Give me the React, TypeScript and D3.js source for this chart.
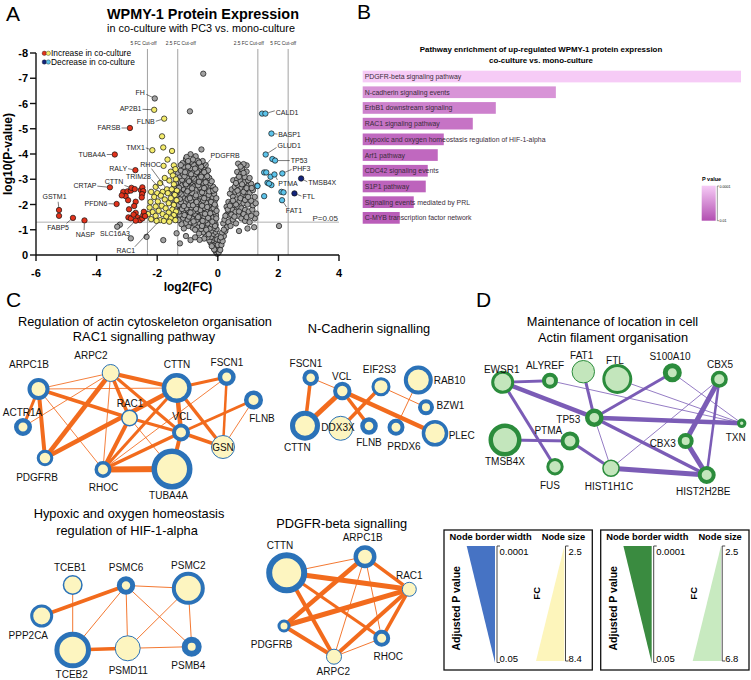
import React from "react";
import * as d3 from "d3";

const FONT = "'Liberation Sans', Arial, Helvetica, sans-serif";

// ================= Panel A : volcano =================
const volcanoXTicks = [-6, -4, -2, 0, 2, 4];
const volcanoYTicks = [0, 1, 2, 3, 4, 5, 6, 7, 8];
const foldCutoffs = [5, 2.5];
const pCutoff = 0.05;

// [log2(FC), -log10(P)]
const grayPoints: number[][] = [
  [-0.02,0.05],[-0.06,0.12],[0.03,0.1],[-0.1,0.2],[-0.04,0.25],[-0.14,0.3],[-0.08,0.36],[-0.19,0.42],[-0.03,0.44],[-0.12,0.48],[0.05,0.3],[-0.24,0.5],
  [-0.06,0.55],[-0.17,0.6],[-0.28,0.58],[-0.1,0.68],[-0.22,0.72],[-0.34,0.7],[-0.05,0.78],[-0.15,0.84],[-0.29,0.86],[-0.4,0.8],[-0.08,0.92],[-0.21,0.97],[-0.36,0.95],[-0.48,0.9],[-0.62,0.85],[-0.9,0.59],[-1.25,0.46],[-1.36,0.86],[-1.05,0.75],[-0.75,0.7],[-1.8,0.59],[-2.35,0.72],[-2.87,0.66],[-3.23,1.2],[-3.32,1.12],
  [-0.04,1.02],[-0.13,1.08],[-0.27,1.05],[-0.41,1.1],[-0.55,1.03],[-0.68,1.12],[-0.83,1.08],[-0.97,1.15],[-1.12,1.05],[-0.07,1.2],[-0.2,1.22],[-0.34,1.25],[-0.49,1.2],[-0.62,1.28],[-0.77,1.24],[-0.91,1.3],[-1.06,1.27],[-1.2,1.22],[-0.1,1.36],[-0.25,1.4],[-0.4,1.37],[-0.55,1.42],[-0.7,1.39],[-0.85,1.45],[-1.0,1.41],[-1.15,1.47],[-1.3,1.38],[-0.15,1.5],[-0.45,1.52],[-1.42,1.5],
  [-0.06,1.58],[-0.3,1.6],[-0.6,1.56],[-0.75,1.62],[-0.93,1.58],[-1.08,1.63],[-1.25,1.6],[-0.12,1.7],[-0.38,1.72],[-0.52,1.68],[-0.67,1.75],[-0.82,1.72],[-0.98,1.78],[-1.14,1.74],[-1.33,1.76],[-0.2,1.83],[-0.45,1.86],[-0.6,1.82],[-0.88,1.88],[-1.04,1.85],[-1.2,1.9],[-1.4,1.88],[-0.08,1.92],[-0.3,1.96],[-0.72,1.95],[-0.95,1.98],[-1.3,1.99],
  [-0.15,2.04],[-0.38,2.06],[-0.55,2.02],[-0.8,2.08],[-1.1,2.05],[-1.22,2.1],[-1.44,2.05],[-0.1,2.15],[-0.25,2.18],[-0.48,2.16],[-0.65,2.2],[-0.88,2.15],[-1.0,2.22],[-1.35,2.18],[-0.18,2.3],[-0.35,2.27],[-0.58,2.32],[-0.75,2.28],[-0.95,2.34],[-1.15,2.3],[-1.3,2.36],[-0.12,2.42],[-0.42,2.44],[-0.62,2.4],[-0.85,2.46],[-1.05,2.43],[-1.25,2.48],[-1.45,2.42],
  [-0.2,2.55],[-0.32,2.6],[-0.52,2.56],[-0.7,2.62],[-0.92,2.58],[-1.12,2.6],[-1.35,2.55],[-0.15,2.7],[-0.4,2.72],[-0.6,2.68],[-0.8,2.74],[-1.0,2.7],[-1.2,2.76],[-1.42,2.72],[-0.25,2.84],[-0.48,2.86],[-0.68,2.82],[-0.88,2.88],[-1.08,2.84],[-1.3,2.9],[-0.35,2.96],[-0.58,2.98],[-0.78,2.95],[-1.18,2.98],
  [-0.28,3.05],[-0.45,3.08],[-0.65,3.04],[-0.85,3.1],[-1.02,3.06],[-1.25,3.12],[-0.38,3.2],[-0.55,3.22],[-0.75,3.18],[-0.95,3.24],[-1.15,3.2],[-1.32,3.26],[-0.32,3.35],[-0.62,3.36],[-0.82,3.32],[-1.05,3.38],[-1.22,3.34],[-0.48,3.45],[-0.7,3.48],[-0.9,3.44],[-1.12,3.5],
  [-0.4,3.56],[-0.6,3.6],[-0.8,3.58],[-1.0,3.62],[-1.16,3.64],[-0.5,3.72],[-0.68,3.75],[-0.88,3.7],[-1.05,3.8],[-0.73,3.91],[-0.9,3.99],[-1.03,3.88],[-0.54,4.18],
  [-0.02,0.62],[-0.09,1.15],[-0.18,1.32],[-0.32,1.47],[-0.5,1.35],[-0.65,1.5],[-0.8,1.33],[-0.95,1.52],[-1.1,1.58],[-1.28,1.72],[-0.25,1.65],[-0.42,1.63],[-0.58,1.78],[-0.72,1.83],[-0.9,1.68],[-1.18,1.82],[-0.14,1.85],[-0.35,1.9],[-0.52,1.95],[-0.82,1.97],[-1.12,1.94],[-0.22,2.1],[-0.45,2.25],[-0.7,2.1],[-0.92,2.25],[-1.25,2.22],[-0.3,2.38],[-0.52,2.48],[-0.72,2.36],[-1.0,2.52],[-1.2,2.4],[-0.28,2.52],[-0.45,2.65],[-0.65,2.76],[-0.85,2.64],[-1.05,2.8],[-1.28,2.66],[-0.2,2.92],[-0.4,2.88],[-0.62,2.9],[-0.95,2.92],[-1.38,2.85],[-0.35,3.12],[-0.55,3.1],[-0.78,3.02],[-1.1,3.12],[-0.45,3.28],[-0.68,3.28],[-0.88,3.2],[-1.08,3.28],[-0.55,3.5],[-0.75,3.42],[-0.98,3.5],[-0.62,3.66],[-0.82,3.78],[-0.98,3.72],[-1.22,3.56],[-0.38,1.0],[-0.52,1.15],[-0.75,1.0],[-0.3,0.82],[-0.45,0.65],[-0.6,0.6],[-0.12,0.22],[-0.2,0.35],[0.0,0.4],[-0.05,1.45],[-0.04,1.75],[-0.1,2.0],[-0.05,2.25],[-0.15,2.55],[-0.08,2.6],
  [-0.48,7.18],[-0.92,5.69],[-2.08,6.2],
  [0.08,0.2],[0.12,0.4],[0.07,0.59],[0.16,0.55],[0.2,0.75],[0.14,0.88],[0.25,0.95],[0.18,1.25],[0.3,1.1],[0.22,1.4],[0.35,1.3],[0.42,1.15],[0.29,1.91],[0.3,1.6],[0.4,1.55],[0.5,1.4],[0.6,1.25],[0.38,1.75],[0.48,1.8],[0.58,1.7],[0.68,1.55],[0.78,1.45],[0.9,1.35],[1.05,1.3],[1.22,1.45],[1.27,1.64],
  [0.35,2.1],[0.45,2.05],[0.55,1.98],[0.66,1.92],[0.78,1.85],[0.9,1.78],[1.02,1.72],[1.14,1.8],[1.16,1.97],[0.4,2.43],[0.5,2.3],[0.62,2.2],[0.72,2.12],[0.85,2.05],[0.98,2.0],[1.1,2.15],[1.22,2.3],[0.46,2.6],[0.58,2.5],[0.7,2.42],[0.82,2.36],[0.94,2.3],[1.05,2.45],[1.16,2.57],
  [0.56,2.7],[0.66,2.78],[0.78,2.66],[0.9,2.6],[1.0,2.75],[1.1,2.82],[0.51,2.96],[0.64,3.0],[0.75,2.92],[0.88,2.88],[1.0,2.96],[0.64,3.29],[0.76,3.2],[0.89,3.09],[0.8,3.4],[0.95,3.3],[0.67,3.62],[0.95,3.55],[0.85,3.6],[1.2,1.1],[0.98,1.05],[0.7,0.95],[2.02,1.15],[1.25,2.05],[1.3,2.75],
  [0.1,0.7],[0.2,1.0],[0.25,1.55],[0.33,1.8],[0.45,1.6],[0.55,1.52],[0.7,1.72],[0.85,1.62],[0.95,1.5],[1.1,1.55],[0.4,1.95],[0.6,2.0],[0.75,2.25],[0.9,2.18],[1.0,2.3],[0.5,2.15],[0.65,2.55],[0.85,2.5],[0.95,2.65],[1.12,2.65],[0.6,2.85],[0.8,2.8],[0.7,3.1],[0.85,3.25],[1.05,3.05],[0.75,3.5]
];

const yellowPoints: number[][] = [
  [-2.1,5.75],[-1.77,5.4],[-1.84,4.7],[-1.8,4.26],[-2.16,4.15],[-1.51,4.12],[-1.66,3.78],[-1.79,3.53],[-1.45,3.55],[-1.4,3.4],[-1.55,3.3],[-1.48,3.15],[-1.38,3.0],[-1.6,2.95],[-1.75,3.05],[-1.9,2.85],[-2.05,2.7],[-1.68,2.6],[-1.45,2.8],[-1.52,2.6],[-1.82,2.5],[-1.35,2.55],[-2.2,2.5],[-2.0,2.45],[-1.65,2.45],[-1.42,2.38],[-1.88,2.35],[-2.1,2.3],[-1.55,2.25],[-1.75,2.2],[-1.36,2.17],[-1.98,2.12],[-2.22,2.1],[-1.62,2.05],[-1.45,1.98],[-1.85,1.95],[-2.05,1.92],[-2.25,1.88],[-1.72,1.85],[-1.5,1.8],[-1.38,1.72],[-1.95,1.75],[-2.15,1.7],[-1.62,1.68],[-1.82,1.62],[-2.3,1.62],[-1.45,1.58],[-2.05,1.55],[-1.7,1.52],[-1.55,1.45],[-1.9,1.38],[-2.2,1.42],[-1.4,1.38],[-1.78,1.35],[-2.02,1.35],[-1.6,1.32]
];

const redPoints: number[][] = [
  [-2.9,5.03],[-3.4,3.98],[-2.72,3.36],[-3.56,2.68],[-3.34,2.02],[-5.24,1.78],[-5.24,1.55],[-4.78,1.47],[-4.4,1.37],
  [-3.12,2.5],[-2.98,2.52],[-2.87,2.55],[-3.04,2.33],[-2.96,2.17],[-2.85,2.66],[-2.74,2.61],[-2.71,2.11],[-2.76,1.94],[-2.93,1.81],[-2.95,1.49],[-2.87,1.45],[-2.71,1.67],[-2.65,1.49],[-2.57,1.38],[-2.49,1.45],[-2.46,1.58],[-2.44,1.71],[-2.71,1.36],[-2.54,2.57],[-2.49,2.68],[-2.46,2.53],[-2.5,2.41],[-2.51,2.28],[-2.4,1.54],[-2.78,1.6],[-3.17,2.36]
];

const lightBluePoints: number[][] = [
  [1.46,5.6],[1.57,5.6],[1.77,4.81],[1.58,3.98],[1.8,3.8],[1.89,3.74],[2.13,3.23],[2.12,2.17],[1.53,3.27],[1.6,3.27],[1.74,3.1],[1.87,3.19],[1.64,2.86],[1.77,2.77],[1.69,2.83],[1.31,2.73],[1.53,2.33],[2.1,2.5],[2.17,2.48]
];

const darkBluePoints: number[][] = [[2.75,3.03],[2.53,2.44]];

// labels: point (x,y), text offset (dx,dy), leader start offset (lx,ly)
const volcanoLabels = [
  { name: "FH", x: -2.08, y: 6.2, dx: -10, dy: -5.8, anchor: "end", lx: -8.5, ly: -4.1 },
  { name: "AP2B1", x: -2.1, y: 5.75, dx: -12.7, dy: -1.2, anchor: "end", lx: -11.7, ly: -0.5 },
  { name: "FLNB", x: -1.77, y: 5.4, dx: -9.4, dy: 2.6, anchor: "end", lx: -8.4, ly: 2.6 },
  { name: "FARSB", x: -2.9, y: 5.03, dx: -9.4, dy: 0, anchor: "end", lx: -8.4, ly: 0 },
  { name: "TMX1", x: -2.16, y: 4.15, dx: -7.5, dy: -2.3, anchor: "end", lx: -6.5, ly: -2.3 },
  { name: "TUBA4A", x: -3.4, y: 3.98, dx: -9, dy: 0, anchor: "end", lx: -8, ly: 0 },
  { name: "RALY", x: -2.72, y: 3.36, dx: -8.3, dy: -2, anchor: "end", lx: -7.3, ly: -1.5 },
  { name: "RHOC", x: -1.68, y: 2.6, dx: -16.3, dy: -24.7, anchor: "middle", lx: -15.4, ly: -20.7 },
  { name: "TRIM28", x: -1.82, y: 2.5, dx: -24.2, dy: -15.1, anchor: "middle", lx: -11.2, ly: -12.5 },
  { name: "CTTN", x: -2.85, y: 2.66, dx: -8, dy: -6, anchor: "end", lx: -7, ly: -2.4 },
  { name: "CRTAP", x: -3.56, y: 2.68, dx: -13.4, dy: -1.9, anchor: "end", lx: -12.6, ly: -1.2 },
  { name: "PFDN6", x: -3.34, y: 2.02, dx: -9.1, dy: -0.6, anchor: "end", lx: -8.1, ly: -0.3 },
  { name: "GSTM1", x: -5.24, y: 1.78, dx: -4.5, dy: -13.3, anchor: "middle", lx: -0.9, ly: -8.3 },
  { name: "FABP5", x: -4.78, y: 1.47, dx: -14.9, dy: 9.2, anchor: "middle", lx: -6.5, ly: 5.5 },
  { name: "NASP", x: -4.4, y: 1.37, dx: 0.8, dy: 14.4, anchor: "middle", lx: -0.4, ly: 9.7 },
  { name: "SLC16A3", x: -2.71, y: 1.36, dx: -20.7, dy: 13, anchor: "middle", lx: -8.4, ly: 8.3 },
  { name: "RAC1", x: -1.9, y: 1.38, dx: -34.4, dy: 30.6, anchor: "middle", lx: -25.4, ly: 26.6 },
  { name: "PDGFRB", x: -1.36, y: 2.17, dx: 33.9, dy: -45.1, anchor: "start", lx: 33.9, ly: -40.8 },
  { name: "CALD1", x: 1.57, y: 5.6, dx: 10.4, dy: -1.6, anchor: "start", lx: 9.4, ly: -2.8 },
  { name: "BASP1", x: 1.77, y: 4.81, dx: 6.7, dy: 0.7, anchor: "start", lx: 6, ly: 0.5 },
  { name: "GLUD1", x: 1.58, y: 3.98, dx: 11.8, dy: -9.3, anchor: "start", lx: 10.8, ly: -7 },
  { name: "TP53", x: 1.89, y: 3.74, dx: 15.7, dy: -0.4, anchor: "start", lx: 14.7, ly: 0 },
  { name: "PHF3", x: 2.13, y: 3.23, dx: 10.2, dy: -5, anchor: "start", lx: 9.2, ly: -4 },
  { name: "TMSB4X", x: 2.75, y: 3.03, dx: 7, dy: 4, anchor: "start", lx: 6.2, ly: 3.3 },
  { name: "PTMA", x: 1.87, y: 3.19, dx: 3.8, dy: 9.5, anchor: "start", lx: 3, ly: 5.5 },
  { name: "FTL", x: 2.53, y: 2.44, dx: 8, dy: 3.4, anchor: "start", lx: 7, ly: 2.7 },
  { name: "FAT1", x: 2.12, y: 2.17, dx: 3.8, dy: 9.9, anchor: "start", lx: 4.5, ly: 6.9 },
];

// ================= Panel B : pathway enrichment =================
const pathways = [
  "PDGFR-beta signaling pathway",
  "N-cadherin signaling events",
  "ErbB1 downstream signaling",
  "RAC1 signaling pathway",
  "Hypoxic and oxygen homeostasis regulation of HIF-1-alpha",
  "Arf1 pathway",
  "CDC42 signaling events",
  "S1P1 pathway",
  "Signaling events mediated by PRL",
  "C-MYB transcription factor network",
];
const pathwayScores = [37.8, 19.3, 13.3, 11.0, 8.1, 7.5, 6.5, 6.3, 5.1, 3.7];
const pathwayPValues = [0.0001, 0.0045, 0.006, 0.0071, 0.0079, 0.008, 0.0083, 0.0084, 0.0086, 0.0089];

// ================= Panel C / D : networks =================
type NetNode = { id: string; fc: number; p: number };
type NetEdge = [string, string, number];

const actinNodes: NetNode[] = [
  { id: "ARPC1B", fc: 4.47, p: 0.0017 }, { id: "ARPC2", fc: 3.68, p: 0.05 },
  { id: "CTTN", fc: 6.04, p: 0.00096 }, { id: "FSCN1", fc: 3.68, p: 0.00096 },
  { id: "FLNB", fc: 3.88, p: 0.00096 }, { id: "ACTR1A", fc: 3.68, p: 0.00096 },
  { id: "RAC1", fc: 3.48, p: 0.028 }, { id: "VCL", fc: 3.68, p: 0.0017 },
  { id: "GSN", fc: 4.86, p: 0.05 }, { id: "PDGFRB", fc: 3.4, p: 0.0052 },
  { id: "RHOC", fc: 3.48, p: 0.003 }, { id: "TUBA4A", fc: 8.2, p: 0.00031 },
];
const actinEdges: NetEdge[] = [
  ["ARPC1B","ARPC2",0.03],["ARPC1B","CTTN",0.03],["ARPC1B","ACTR1A",0.43],["ARPC1B","PDGFRB",0.62],["ARPC1B","RAC1",0.53],
  ["ARPC1B","RHOC",0.03],["ACTR1A","ARPC2",0.03],["ARPC2","CTTN",0.62],["ARPC2","RAC1",0.53],["ARPC2","PDGFRB",0.72],
  ["ARPC2","RHOC",0.03],["ARPC2","VCL",0.43],["CTTN","FSCN1",0.43],["CTTN","VCL",0.72],["CTTN","GSN",0.53],
  ["CTTN","PDGFRB",0.72],["CTTN","RHOC",0.43],["VCL","FLNB",0.43],["VCL","TUBA4A",0.62],["VCL","RHOC",0.53],
  ["RHOC","TUBA4A",1.0],["RHOC","RAC1",0.62],["RAC1","VCL",0.43],["VCL","GSN",0.53],["FSCN1","GSN",0.34],
  ["FSCN1","RHOC",0.03],["FLNB","GSN",0.03],["RAC1","TUBA4A",0.03],
];
const actinLayout: Record<string, number[]> = {
  ARPC1B: [38.5, 389, 29, 364.5], ARPC2: [110.7, 373, 91, 355], CTTN: [176.7, 388, 177, 364],
  FSCN1: [226.7, 377, 227, 362], FLNB: [253.5, 400, 262, 418], ACTR1A: [23, 427, 22.5, 412.5],
  RAC1: [129.5, 418, 130, 403.5], VCL: [181, 432.5, 182, 416], GSN: [223, 447, 223, 447],
  PDGFRB: [45, 458, 37, 477], RHOC: [103, 469.5, 103.5, 487], TUBA4A: [172, 469, 168.5, 495],
};

const cadherinNodes: NetNode[] = [
  { id: "FSCN1", fc: 3.4, p: 0.0017 }, { id: "VCL", fc: 3.76, p: 0.0017 },
  { id: "EIF2S3", fc: 3.88, p: 0.0052 }, { id: "RAB10", fc: 5.84, p: 0.0017 },
  { id: "BZW1", fc: 3.29, p: 0.0017 }, { id: "PLEC", fc: 5.37, p: 0.003 },
  { id: "CTTN", fc: 6.04, p: 0.00054 }, { id: "DDX3X", fc: 5.06, p: 0.05 },
  { id: "FLNB", fc: 3.6, p: 0.00096 }, { id: "PRDX6", fc: 3.48, p: 0.0017 },
];
const cadherinEdges: NetEdge[] = [
  ["FSCN1","CTTN",0.53],["FSCN1","VCL",0.04],["VCL","CTTN",0.81],["VCL","FLNB",0.53],["VCL","PLEC",0.72],
  ["EIF2S3","DDX3X",0.53],["EIF2S3","BZW1",0.04],["RAB10","PRDX6",0.04],
];
const cadherinLayout: Record<string, number[]> = {
  FSCN1: [310.7, 377.7, 306, 363], VCL: [342.3, 391, 341.7, 376.5], EIF2S3: [381, 386.7, 379.5, 369.5],
  RAB10: [418.3, 380, 449.5, 380], BZW1: [426, 407.3, 450.5, 405], PLEC: [435, 433.3, 461.7, 435],
  CTTN: [305, 425.7, 297.3, 447.3], DDX3X: [340.7, 428.3, 338, 427.5], FLNB: [369, 426, 369, 442.7],
  PRDX6: [396, 427.3, 404, 446.7],
};

const hypoxiaNodes: NetNode[] = [
  { id: "TCEB1", fc: 4.07, p: 0.028 }, { id: "PSMC6", fc: 3.76, p: 0.00054 },
  { id: "PSMC2", fc: 6.63, p: 0.0017 }, { id: "PPP2CA", fc: 4.66, p: 0.0052 },
  { id: "TCEB2", fc: 7.34, p: 0.00054 }, { id: "PSMD11", fc: 5.25, p: 0.05 },
  { id: "PSMB4", fc: 4.07, p: 0.00018 },
];
const hypoxiaEdges: NetEdge[] = [
  ["PPP2CA","PSMC6",0.62],["TCEB1","TCEB2",0.04],["TCEB2","PSMC6",0.04],["TCEB2","PSMD11",0.53],["PSMC6","PSMD11",0.04],
  ["PSMC6","PSMC2",0.04],["PSMC6","PSMB4",0.04],["PSMC2","PSMD11",0.04],["PSMC2","PSMB4",0.04],["PSMD11","PSMB4",0.04],
];
const hypoxiaLayout: Record<string, number[]> = {
  TCEB1: [72.7, 585, 70, 567.5], PSMC6: [126, 585.5, 126, 567.5], PSMC2: [188.3, 588.3, 188.3, 565],
  PPP2CA: [41.7, 616, 28.3, 635], TCEB2: [72.7, 650, 71.7, 674], PSMD11: [127.7, 648.3, 128.3, 670],
  PSMB4: [191.7, 646.7, 188.3, 665],
};

const pdgfrNodes: NetNode[] = [
  { id: "CTTN", fc: 8.2, p: 0.00018 }, { id: "ARPC1B", fc: 4.66, p: 0.00096 },
  { id: "RAC1", fc: 3.09, p: 0.05 }, { id: "PDGFRB", fc: 2.7, p: 0.0052 },
  { id: "RHOC", fc: 3.48, p: 0.0017 }, { id: "ARPC2", fc: 3.29, p: 0.05 },
];
const pdgfrEdges: NetEdge[] = [
  ["CTTN","ARPC1B",0.04],["CTTN","RAC1",0.81],["CTTN","ARPC2",0.62],["CTTN","RHOC",0.43],["ARPC1B","PDGFRB",0.72],
  ["ARPC1B","RAC1",0.53],["ARPC1B","ARPC2",0.04],["ARPC1B","RHOC",0.04],["RAC1","PDGFRB",0.81],["RAC1","ARPC2",0.62],
  ["RAC1","RHOC",0.53],["PDGFRB","ARPC2",0.62],["ARPC2","RHOC",0.04],
];
const pdgfrLayout: Record<string, number[]> = {
  CTTN: [286.7, 572.7, 280, 545], ARPC1B: [365, 556.7, 362.7, 537.3], RAC1: [409.3, 589.3, 409.3, 575],
  PDGFRB: [284, 626, 271.7, 644], RHOC: [381.7, 638.3, 388.3, 656.7], ARPC2: [334, 656.7, 333.3, 671.7],
};

const maintNodes: NetNode[] = [
  { id: "EWSR1", fc: 4.91, p: 0.0052 }, { id: "ALYREF", fc: 3.7, p: 0.0017 },
  { id: "FAT1", fc: 4.98, p: 0.05 }, { id: "FTL", fc: 6.11, p: 0.0052 },
  { id: "S100A10", fc: 4.22, p: 0.00054 }, { id: "CBX5", fc: 3.88, p: 0.003 },
  { id: "TP53", fc: 4.15, p: 0.00096 }, { id: "TXN", fc: 2.57, p: 0.0052 },
  { id: "TMSB4X", fc: 6.63, p: 0.00096 }, { id: "PTMA", fc: 4.22, p: 0.0017 },
  { id: "CBX3", fc: 3.7, p: 0.0017 }, { id: "FUS", fc: 3.94, p: 0.0052 },
  { id: "HIST1H1C", fc: 3.98, p: 0.028 }, { id: "HIST2H2BE", fc: 4.05, p: 0.0017 },
];
const maintEdges: NetEdge[] = [
  ["EWSR1","ALYREF",0.43],["EWSR1","TP53",0.72],["EWSR1","FUS",0.43],["FAT1","TP53",0.43],["TP53","S100A10",0.43],
  ["TP53","TXN",0.72],["TP53","HIST1H1C",0.02],["TP53","HIST2H2BE",0.53],["ALYREF","TXN",0.02],["FTL","TXN",0.02],
  ["S100A10","TXN",0.02],["CBX5","CBX3",0.81],["CBX5","HIST2H2BE",0.34],["CBX5","HIST1H1C",0.02],["CBX3","HIST2H2BE",0.81],
  ["TMSB4X","PTMA",0.43],["PTMA","HIST1H1C",0.43],["HIST1H1C","HIST2H2BE",0.81],
];
const maintLayout: Record<string, number[]> = {
  EWSR1: [502.7, 382.3, 501.7, 369.3], ALYREF: [550, 380.7, 545, 365], FAT1: [583.3, 371.7, 581.7, 355],
  FTL: [617.3, 379, 615, 360], S100A10: [672.3, 372.7, 670, 356.7], CBX5: [719.3, 379.3, 720, 364],
  TP53: [594.3, 417.7, 568.3, 419.3], TXN: [741.7, 423.3, 735.7, 437.3], TMSB4X: [505, 440, 505, 461.7],
  PTMA: [570, 441, 548.3, 430.7], CBX3: [685.7, 441, 662.7, 443.3], FUS: [555, 466.7, 550, 485],
  HIST1H1C: [611, 468.3, 609, 486], HIST2H2BE: [706.7, 475, 703.3, 491.7],
};

const legendPLabels = ["0.0001", "0.05"];
const legendFcC = ["2.5", "8.4"];
const legendFcD = ["2.5", "6.8"];

// ================= components =================
function Volcano() {
  const x = d3.scaleLinear().domain([-6, 4]).range([36, 339]);
  const y = d3.scaleLinear().domain([0, 8]).range([255, 53]);
  const r = 2.7;
  const dot = (pts: number[][], fill: string, key: string) =>
    pts.map((p, i) => (
      <circle key={key + i} cx={x(p[0])} cy={y(p[1])} r={r} fill={fill} stroke="#111" strokeWidth={0.7} />
    ));
  const cut = foldCutoffs.flatMap((fc) => [-Math.log2(fc), Math.log2(fc)]);
  const cutLabelShift: Record<string, number> = { "-2.32": -4, "-1.32": 3, "1.32": -9, "2.32": -5 };
  return (
    <g fontFamily={FONT}>
      <text x={6} y={21} fontSize={21}>A</text>
      <text x={203} y={18.8} fontSize={14.4} fontWeight="bold" textAnchor="middle">WPMY-1 Protein Expression</text>
      <text x={201} y={31.5} fontSize={10.8} textAnchor="middle">in co-culture with PC3 vs. mono-culture</text>
      {cut.map((v) => (
        <g key={v}>
          <line x1={x(v)} x2={x(v)} y1={49} y2={255} stroke="#8a8a8a" strokeWidth={0.8} />
          <text x={x(v) + (cutLabelShift[v.toFixed(2)] || 0)} y={45} fontSize={4.8} textAnchor="middle" fill="#333">
            {`${Math.abs(v) > 2 ? 5 : 2.5} FC Cut-off`}
          </text>
        </g>
      ))}
      <line x1={36} x2={339} y1={y(-Math.log10(pCutoff))} y2={y(-Math.log10(pCutoff))} stroke="#9a9a9a" strokeWidth={0.8} />
      <text x={338} y={y(-Math.log10(pCutoff)) - 1.5} fontSize={8} textAnchor="end" fill="#333">P=0.05</text>
      {dot(grayPoints, "#a2a2a2", "g")}
      {dot(yellowPoints, "#f4ec6c", "y")}
      {dot(redPoints, "#e2321b", "r")}
      {dot(lightBluePoints, "#5cc3ea", "lb")}
      {dot(darkBluePoints, "#13237c", "db")}
      {volcanoLabels.map((l) => {
        const px = x(l.x), py = y(l.y);
        const sx = px + l.lx, sy = py + l.ly;
        const len = Math.hypot(px - sx, py - sy);
        const ex = px - ((px - sx) / len) * (r + 0.3), ey = py - ((py - sy) / len) * (r + 0.3);
        return (
          <g key={l.name}>
            <line x1={sx} y1={sy} x2={ex} y2={ey} stroke="#222" strokeWidth={0.6} />
            <text x={px + l.dx} y={py + l.dy} fontSize={7} textAnchor={l.anchor as any} dominantBaseline="central" fill="#222">{l.name}</text>
          </g>
        );
      })}
      {/* axes */}
      <line x1={36} x2={36} y1={53} y2={255} stroke="#111" strokeWidth={1.4} />
      <line x1={36} x2={339} y1={255} y2={255} stroke="#111" strokeWidth={1.4} />
      {volcanoYTicks.map((t) => (
        <g key={t}>
          <line x1={30} x2={36} y1={y(t)} y2={y(t)} stroke="#111" strokeWidth={1.4} />
          <text x={28} y={y(t)} fontSize={11} fontWeight="bold" textAnchor="end" dominantBaseline="central">{t === 0 ? "0" : `-${t}`}</text>
        </g>
      ))}
      {volcanoXTicks.map((t) => (
        <g key={t}>
          <line x1={x(t)} x2={x(t)} y1={255} y2={261} stroke="#111" strokeWidth={1.4} />
          <text x={x(t)} y={277} fontSize={11} fontWeight="bold" textAnchor="middle">{t}</text>
        </g>
      ))}
      <text x={188} y={291} fontSize={12} fontWeight="bold" textAnchor="middle">log2(FC)</text>
      <text transform="translate(12,154) rotate(-90)" fontSize={12} fontWeight="bold" textAnchor="middle">log10(P-value)</text>
      {/* legend */}
      <circle cx={44.3} cy={53.3} r={2.2} fill="#e2321b" stroke="#222" strokeWidth={0.4} />
      <circle cx={48.3} cy={53.3} r={2.2} fill="#f4ec6c" stroke="#222" strokeWidth={0.4} />
      <text x={51} y={53.3} fontSize={8.4} dominantBaseline="central">Increase in co-culture</text>
      <circle cx={44.3} cy={62} r={2.2} fill="#13237c" stroke="#222" strokeWidth={0.4} />
      <circle cx={48.3} cy={62} r={2.2} fill="#5cc3ea" stroke="#222" strokeWidth={0.4} />
      <text x={51} y={62} fontSize={8.4} dominantBaseline="central">Decrease in co-culture</text>
    </g>
  );
}

function Pathways() {
  const x = d3.scaleLinear().domain([0, 37.8]).range([362.7, 741]);
  const y = d3.scaleBand<string>().domain(pathways).range([68.8, 225.6]).paddingInner(0.255).paddingOuter(0.12);
  const color = d3.scaleLinear<string>().domain([0.0001, 0.01]).range(["#f6cbf6", "#b24fb1"]);
  return (
    <g fontFamily={FONT}>
      <text x={357} y={19} fontSize={21}>B</text>
      <text x={541} y={52.3} fontSize={7.9} fontWeight="bold" textAnchor="middle">Pathway enrichment of up-regulated WPMY-1 protein expression</text>
      <text x={541} y={63} fontSize={7.9} fontWeight="bold" textAnchor="middle">co-culture vs. mono-culture</text>
      {pathways.map((p, i) => (
        <g key={p}>
          <rect x={x(0)} y={y(p)} width={x(pathwayScores[i]) - x(0)} height={y.bandwidth()} fill={color(pathwayPValues[i])} />
          <text x={x(0) + 2} y={(y(p) as number) + y.bandwidth() / 2} fontSize={6.9} fill="#3a2c3a" dominantBaseline="central">{p}</text>
        </g>
      ))}
      <defs>
        <linearGradient id="pgrad" x1="0" x2="0" y1="0" y2="1">
          <stop offset="0" stopColor="#f6cbf6" />
          <stop offset="1" stopColor="#b24fb1" />
        </linearGradient>
      </defs>
      <text x={702} y={180.5} fontSize={5.5} fontWeight="bold">P value</text>
      <rect x={701.7} y={185.7} width={14} height={35} fill="url(#pgrad)" />
      <path d="M719,186 H717.3 V220.7 H719" fill="none" stroke="#333" strokeWidth={0.5} />
      <text x={719.5} y={187.5} fontSize={3.6}>0.0001</text>
      <text x={719.5} y={221.5} fontSize={3.6}>0.01</text>
    </g>
  );
}

const rScaleC = d3.scaleLinear().domain([2.5, 8.4]).range([6, 21]);
const rScaleD = d3.scaleLinear().domain([2.5, 6.8]).range([4.5, 17]);
const bScale = d3.scaleLog().domain([0.0001, 0.05]).range([6.5, 1]);
const wScale = d3.scaleLinear().domain([0, 1]).range([0.7, 6]);

function Network(props: {
  nodes: NetNode[]; edges: NetEdge[]; layout: Record<string, number[]>;
  rScale: (v: number) => number; fill: string; stroke: string; edgeColor: string;
}) {
  const { nodes, edges, layout, rScale, fill, stroke, edgeColor } = props;
  return (
    <g fontFamily={FONT}>
      {edges.map(([a, b, s], i) => (
        <line key={i} x1={layout[a][0]} y1={layout[a][1]} x2={layout[b][0]} y2={layout[b][1]} stroke={edgeColor} strokeWidth={wScale(s)} />
      ))}
      {nodes.map((n) => {
        const R = rScale(n.fc);
        const w = bScale(n.p);
        return <circle key={n.id} cx={layout[n.id][0]} cy={layout[n.id][1]} r={R - w / 2} fill={fill} stroke={stroke} strokeWidth={w} />;
      })}
      {nodes.map((n) => (
        <text key={"t" + n.id} x={layout[n.id][2]} y={layout[n.id][3]} fontSize={10} textAnchor="middle" dominantBaseline="central" fill="#111">{n.id}</text>
      ))}
    </g>
  );
}

function LegendBox(props: { x0: number; dark: string; light: string; fcLabels: string[] }) {
  const { x0, dark, light, fcLabels } = props;
  const X = (v: number) => x0 + v;
  return (
    <g fontFamily={FONT}>
      <rect x={X(0)} y={530} width={148.3} height={140} fill="#fff" stroke="#111" strokeWidth={1.3} />
      <text x={X(5.5)} y={540.3} fontSize={9.3} fontWeight="bold">Node border width</text>
      <text x={X(97.7)} y={540.3} fontSize={9.3} fontWeight="bold">Node size</text>
      <path d={`M${X(22.7)},546 L${X(51)},546 L${X(51)},662.7 Z`} fill={dark} />
      <path d={`M${X(56)},546 H${X(53)} V662.5 H${X(56)}`} fill="none" stroke="#333" strokeWidth={0.9} />
      <text x={X(55.5)} y={555} fontSize={9.5}>{legendPLabels[0]}</text>
      <text x={X(55.5)} y={661.5} fontSize={9.5}>{legendPLabels[1]}</text>
      <text transform={`translate(${X(16)},608.3) rotate(-90)`} fontSize={10.5} fontWeight="bold" textAnchor="middle">Adjusted P value</text>
      <path d={`M${X(92)},661 L${X(120.3)},546 L${X(120.3)},661 Z`} fill={light} />
      <path d={`M${X(124.5)},546 H${X(121.5)} V661 H${X(124.5)}`} fill="none" stroke="#333" strokeWidth={0.9} />
      <text x={X(124.5)} y={555} fontSize={9.5}>{fcLabels[0]}</text>
      <text x={X(124.5)} y={661.5} fontSize={9.5}>{fcLabels[1]}</text>
      <text transform={`translate(${X(96)},593.3) rotate(-90)`} fontSize={9.5} fontWeight="bold" textAnchor="middle">FC</text>
    </g>
  );
}

export default function App() {
  const yFill = "#fdf5c0", blue = "#2b72b8", orange = "#f26b1d";
  const gFill = "#c3e6bc", green = "#2b8c3c", purple = "#7b5cb6";
  return (
    <svg width={751} height={680} style={{ position: "absolute", left: 0, top: 0, background: "#fff" }} xmlns="http://www.w3.org/2000/svg">
      <rect x={0} y={0} width={751} height={680} fill="#fff" />
      <Volcano />
      <Pathways />
      <g fontFamily={FONT}>
        <text x={6} y={307} fontSize={21}>C</text>
        <text x={476} y={307} fontSize={21}>D</text>
        <text x={145} y={326} fontSize={12.8} textAnchor="middle">Regulation of actin cytoskeleton organisation</text>
        <text x={144} y={341} fontSize={12.8} textAnchor="middle">RAC1 signalling pathway</text>
        <text x={369} y={333} fontSize={12.8} textAnchor="middle">N-Cadherin signalling</text>
        <text x={129} y={518} fontSize={12.8} textAnchor="middle">Hypoxic and oxygen homeostasis</text>
        <text x={127} y={535} fontSize={12.8} textAnchor="middle">regulation of HIF-1-alpha</text>
        <text x={341.7} y={528} fontSize={12.8} textAnchor="middle">PDGFR-beta signalling</text>
        <text x={612.5} y={326} fontSize={12.8} textAnchor="middle">Maintenance of location in cell</text>
        <text x={613} y={341.5} fontSize={12.8} textAnchor="middle">Actin filament organisation</text>
      </g>
      <Network nodes={actinNodes} edges={actinEdges} layout={actinLayout} rScale={rScaleC} fill={yFill} stroke={blue} edgeColor={orange} />
      <Network nodes={cadherinNodes} edges={cadherinEdges} layout={cadherinLayout} rScale={rScaleC} fill={yFill} stroke={blue} edgeColor={orange} />
      <Network nodes={hypoxiaNodes} edges={hypoxiaEdges} layout={hypoxiaLayout} rScale={rScaleC} fill={yFill} stroke={blue} edgeColor={orange} />
      <Network nodes={pdgfrNodes} edges={pdgfrEdges} layout={pdgfrLayout} rScale={rScaleC} fill={yFill} stroke={blue} edgeColor={orange} />
      <Network nodes={maintNodes} edges={maintEdges} layout={maintLayout} rScale={rScaleD} fill={gFill} stroke={green} edgeColor={purple} />
      <LegendBox x0={444} dark="#4673c4" light="#fdf5bb" fcLabels={legendFcC} />
      <LegendBox x0={600.7} dark="#3a8b40" light="#c8eac0" fcLabels={legendFcD} />
    </svg>
  );
}
